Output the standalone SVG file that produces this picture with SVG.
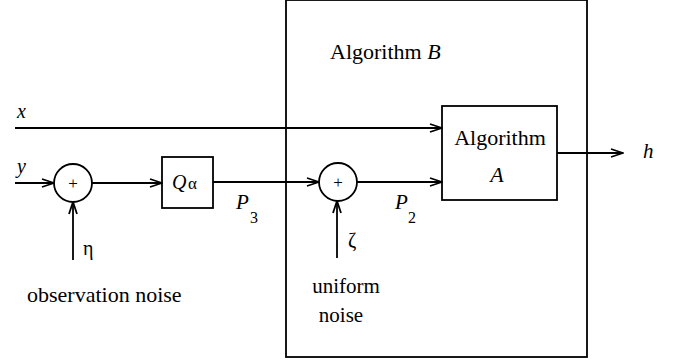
<svg xmlns="http://www.w3.org/2000/svg" width="680" height="362" viewBox="0 0 680 362">
<defs>
<marker id="arr" markerWidth="14" markerHeight="10" refX="13" refY="5" orient="auto" markerUnits="userSpaceOnUse">
<path d="M1,1 L13,5 L1,9" fill="none" stroke="#000" stroke-width="1.8"/>
</marker>
</defs>
<rect x="0" y="0" width="680" height="362" fill="#fff"/>
<g id="algB">
<rect x="286" y="0" width="301" height="357" fill="none" stroke="#000" stroke-width="1.8"/>
<text x="330" y="59" font-family="'Liberation Serif', serif" font-size="22">Algorithm <tspan font-style="italic">B</tspan></text>
</g>
<g id="algA">
<rect x="442" y="106" width="115" height="94" fill="#fff" stroke="#000" stroke-width="1.8"/>
<text x="500" y="145" text-anchor="middle" font-family="'Liberation Serif', serif" font-size="22">Algorithm</text>
<text x="497" y="182" text-anchor="middle" font-family="'Liberation Serif', serif" font-size="22" font-style="italic">A</text>
</g>
<g id="sum1">
<circle cx="73" cy="183" r="19" fill="#fff" stroke="#000" stroke-width="1.8"/>
<text x="73" y="189" text-anchor="middle" font-family="'Liberation Serif', serif" font-size="17">+</text>
</g>
<g id="quant">
<rect x="162" y="157" width="51" height="51" fill="#fff" stroke="#000" stroke-width="1.8"/>
<text x="172" y="189" font-family="'Liberation Serif', serif" font-size="20" font-style="italic">Q</text>
<text x="188" y="189" font-family="'Liberation Serif', serif" font-size="17">α</text>
</g>
<g id="sum2">
<circle cx="338" cy="182" r="19" fill="#fff" stroke="#000" stroke-width="1.8"/>
<text x="338" y="188" text-anchor="middle" font-family="'Liberation Serif', serif" font-size="17">+</text>
</g>
<g id="connectors" stroke="#000" stroke-width="1.8" fill="none">
<line x1="15" y1="128" x2="442" y2="128" marker-end="url(#arr)"/>
<line x1="15" y1="183" x2="54" y2="183" marker-end="url(#arr)"/>
<line x1="92" y1="183" x2="162" y2="183" marker-end="url(#arr)"/>
<line x1="73" y1="260" x2="73" y2="202" marker-end="url(#arr)"/>
<line x1="213" y1="182" x2="319" y2="182" marker-end="url(#arr)"/>
<line x1="337" y1="258" x2="337" y2="201" marker-end="url(#arr)"/>
<line x1="357" y1="182" x2="442" y2="182" marker-end="url(#arr)"/>
<line x1="557" y1="153" x2="623" y2="153" marker-end="url(#arr)"/>
</g>
<g id="labels">
<text x="17" y="118" font-family="'Liberation Serif', serif" font-size="20" font-style="italic">x</text>
<text x="17" y="173" font-family="'Liberation Serif', serif" font-size="20" font-style="italic">y</text>
<text x="83" y="255" font-family="'Liberation Serif', serif" font-size="20">η</text>
<text x="27" y="302" font-family="'Liberation Serif', serif" font-size="22">observation noise</text>
<text x="236" y="209" font-family="'Liberation Serif', serif" font-size="21" font-style="italic">P</text>
<text x="250" y="223" font-family="'Liberation Serif', serif" font-size="16">3</text>
<text x="348" y="247" font-family="'Liberation Serif', serif" font-size="20">ζ</text>
<text x="346" y="293" text-anchor="middle" font-family="'Liberation Serif', serif" font-size="21">uniform</text>
<text x="341" y="322" text-anchor="middle" font-family="'Liberation Serif', serif" font-size="21">noise</text>
<text x="395" y="209" font-family="'Liberation Serif', serif" font-size="21" font-style="italic">P</text>
<text x="408" y="223" font-family="'Liberation Serif', serif" font-size="16">2</text>
<text x="643" y="158" font-family="'Liberation Serif', serif" font-size="21" font-style="italic">h</text>
</g>
</svg>
